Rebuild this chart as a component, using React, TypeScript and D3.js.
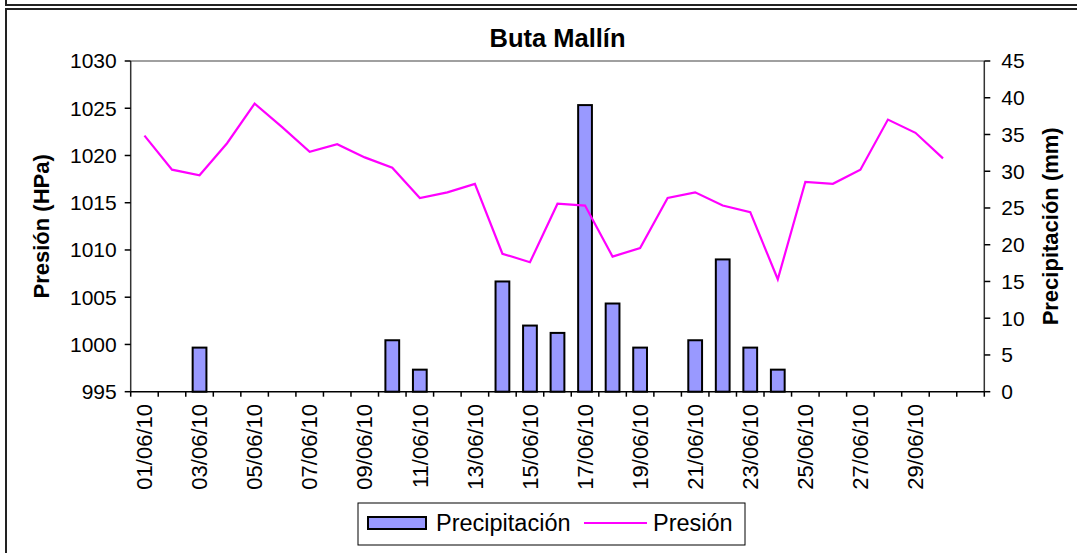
import React, { useEffect, useRef } from "react";
import * as d3 from "d3";

// categorías (día del mes); la última queda sin rótulo
const fechas = [
  "01/06/10", "02/06/10", "03/06/10", "04/06/10", "05/06/10", "06/06/10",
  "07/06/10", "08/06/10", "09/06/10", "10/06/10", "11/06/10", "12/06/10",
  "13/06/10", "14/06/10", "15/06/10", "16/06/10", "17/06/10", "18/06/10",
  "19/06/10", "20/06/10", "21/06/10", "22/06/10", "23/06/10", "24/06/10",
  "25/06/10", "26/06/10", "27/06/10", "28/06/10", "29/06/10", "30/06/10",
  "",
];

// precipitación diaria (mm)
const precipitacion = [
  0, 0, 6, 0, 0, 0, 0, 0, 0, 7, 3, 0, 0, 15, 9, 8, 39, 12, 6, 0,
  7, 18, 6, 3, 0, 0, 0, 0, 0, 0,
];

// presión (hPa)
const presion = [
  1022.1, 1018.5, 1017.9, 1021.3, 1025.5, 1023.0, 1020.4, 1021.2, 1019.8, 1018.7,
  1015.5, 1016.1, 1017.0, 1009.6, 1008.7, 1014.9, 1014.7, 1009.3, 1010.2, 1015.5,
  1016.1, 1014.7, 1014.0, 1006.9, 1017.2, 1017.0, 1018.5, 1023.8, 1022.4, 1019.7,
];

const ticksPresion = [995, 1000, 1005, 1010, 1015, 1020, 1025, 1030];
const ticksPrecip = [0, 5, 10, 15, 20, 25, 30, 35, 40, 45];

const W = 1077;
const H = 553;
const FONT = "'Liberation Sans', Arial, sans-serif";

export default function App() {
  const ref = useRef<SVGSVGElement>(null);

  useEffect(() => {
    const svg = d3.select(ref.current);
    svg.selectAll("*").remove();

    const plot = { left: 130.7, right: 984.3, top: 61, bottom: 391.7 };

    const x = d3
      .scaleBand<number>()
      .domain(fechas.map((_, i) => i))
      .range([plot.left, plot.right])
      .padding(0);
    const yP = d3.scaleLinear().domain([995, 1030]).range([plot.bottom, plot.top]);
    const yR = d3.scaleLinear().domain([0, 45]).range([plot.bottom, plot.top]);

    svg.append("rect").attr("width", W).attr("height", H).attr("fill", "#fff");

    // marcos del documento
    svg.append("path").attr("d", `M6,0V5H${W}`).attr("fill", "none")
      .attr("stroke", "#222").attr("stroke-width", 2);
    svg.append("path").attr("d", `M${W},9H6V${H}`).attr("fill", "none")
      .attr("stroke", "#222").attr("stroke-width", 2);

    // borde superior del área de trazado
    svg.append("line")
      .attr("x1", plot.left).attr("x2", plot.right)
      .attr("y1", plot.top).attr("y2", plot.top)
      .attr("stroke", "#808080").attr("stroke-width", 1.5);

    // barras
    const bw = x.bandwidth() / 2;
    svg.append("g")
      .selectAll("rect")
      .data(precipitacion.map((v, i) => ({ v, i })).filter((d) => d.v > 0))
      .enter()
      .append("rect")
      .attr("x", (d) => x(d.i)! + (x.bandwidth() - bw) / 2)
      .attr("y", (d) => yR(d.v))
      .attr("width", bw)
      .attr("height", (d) => plot.bottom - yR(d.v))
      .attr("fill", "#9999ff")
      .attr("stroke", "#000")
      .attr("stroke-width", 2);

    // línea de presión
    const line = d3
      .line<number>()
      .x((_, i) => x(i)! + x.bandwidth() / 2)
      .y((d) => yP(d));
    svg.append("path")
      .attr("d", line(presion))
      .attr("fill", "none")
      .attr("stroke", "#ff00ff")
      .attr("stroke-width", 2.2)
      .attr("stroke-linejoin", "miter");

    // ejes
    const ax = svg.append("g").attr("stroke", "#000").attr("stroke-width", 1.5);
    ax.append("line").attr("x1", plot.left).attr("x2", plot.left)
      .attr("y1", plot.top).attr("y2", plot.bottom).attr("stroke", "#333");
    ax.append("line").attr("x1", plot.right).attr("x2", plot.right)
      .attr("y1", plot.top).attr("y2", plot.bottom).attr("stroke", "#333");
    ax.append("line").attr("x1", plot.left).attr("x2", plot.right)
      .attr("y1", plot.bottom).attr("y2", plot.bottom);

    ax.selectAll(".tl").data(ticksPresion).enter().append("line")
      .attr("x1", plot.left - 6).attr("x2", plot.left)
      .attr("y1", (d) => yP(d)).attr("y2", (d) => yP(d));
    ax.selectAll(".tr").data(ticksPrecip).enter().append("line")
      .attr("x1", plot.right).attr("x2", plot.right + 6)
      .attr("y1", (d) => yR(d)).attr("y2", (d) => yR(d));
    ax.selectAll(".tx").data(d3.range(fechas.length + 1)).enter().append("line")
      .attr("x1", (i) => plot.left + i * x.step()).attr("x2", (i) => plot.left + i * x.step())
      .attr("y1", plot.bottom).attr("y2", plot.bottom + 5);

    const txt = svg.append("g").attr("font-family", FONT).attr("fill", "#000");

    txt.selectAll(".ll").data(ticksPresion).enter().append("text")
      .attr("x", plot.left - 14).attr("y", (d) => yP(d)).attr("dy", "0.35em")
      .attr("text-anchor", "end").attr("font-size", 21)
      .text((d) => d);
    txt.selectAll(".rl").data(ticksPrecip).enter().append("text")
      .attr("x", plot.right + 17).attr("y", (d) => yR(d)).attr("dy", "0.35em")
      .attr("font-size", 21)
      .text((d) => d);
    txt.selectAll(".xl").data(fechas.map((f, i) => ({ f, i })).filter((d) => d.i % 2 === 0 && d.f))
      .enter().append("text")
      .attr("transform", (d) => `translate(${x(d.i)! + x.bandwidth() / 2},404) rotate(-90)`)
      .attr("dy", "0.35em").attr("text-anchor", "end").attr("font-size", 22)
      .text((d) => d.f);

    txt.append("text")
      .attr("x", (plot.left + plot.right) / 2).attr("y", 47)
      .attr("text-anchor", "middle").attr("font-size", 25.5).attr("font-weight", "bold")
      .text("Buta Mallín");
    txt.append("text")
      .attr("transform", `translate(41,${(plot.top + plot.bottom) / 2}) rotate(-90)`)
      .attr("dy", "0.35em").attr("text-anchor", "middle")
      .attr("font-size", 22).attr("font-weight", "bold")
      .text("Presión (HPa)");
    txt.append("text")
      .attr("transform", `translate(1050,${(plot.top + plot.bottom) / 2}) rotate(-90)`)
      .attr("dy", "0.35em").attr("text-anchor", "middle")
      .attr("font-size", 22).attr("font-weight", "bold")
      .text("Precipitación (mm)");

    // leyenda
    const lg = svg.append("g").attr("font-family", FONT);
    lg.append("rect").attr("x", 358).attr("y", 503).attr("width", 387).attr("height", 42)
      .attr("fill", "#fff").attr("stroke", "#000").attr("stroke-width", 1);
    lg.append("rect").attr("x", 368).attr("y", 517).attr("width", 58).attr("height", 12)
      .attr("fill", "#9999ff").attr("stroke", "#000").attr("stroke-width", 2);
    lg.append("text").attr("x", 436).attr("y", 523).attr("dy", "0.35em")
      .attr("font-size", 23.5).text("Precipitación");
    lg.append("line").attr("x1", 584).attr("x2", 647).attr("y1", 523).attr("y2", 523)
      .attr("stroke", "#ff00ff").attr("stroke-width", 2);
    lg.append("text").attr("x", 653).attr("y", 523).attr("dy", "0.35em")
      .attr("font-size", 23.5).text("Presión");
  }, []);

  return (
    <svg
      ref={ref}
      width={W}
      height={H}
      style={{ position: "absolute", left: 0, top: 0, display: "block" }}
    />
  );
}
